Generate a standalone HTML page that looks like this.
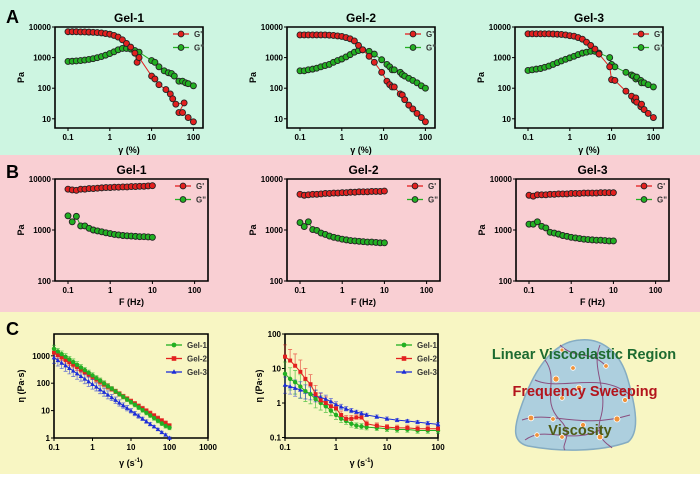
<!DOCTYPE html>
<html><head><meta charset="utf-8"><style>
body{margin:0;width:700px;height:474px;overflow:hidden;background:#fff;font-family:"Liberation Sans",sans-serif}
svg text{font-family:"Liberation Sans",sans-serif;font-weight:bold}
</style></head><body>
<svg id="fig" width="700" height="474" viewBox="0 0 700 474" xmlns="http://www.w3.org/2000/svg">
<rect x="0" y="0" width="700" height="155" fill="#cdf5e1"/>
<rect x="0" y="155" width="700" height="157" fill="#f9cfd3"/>
<rect x="0" y="312" width="700" height="162" fill="#f8f6c3"/>
<text x="6" y="23" font-size="18">A</text>
<text x="6" y="178" font-size="18">B</text>
<text x="6" y="335" font-size="18">C</text>
<g>
<path d="M580 340 C600 338 620 350 628 380 C636 408 640 432 628 442 C600 452 560 452 528 446 C512 442 514 428 520 410 C530 380 548 342 580 340 Z" fill="#a9cde0" stroke="#7fa9c2" stroke-width="1.5" opacity="0.95"/>
<path d="M545 360 C560 380 540 400 560 420 C575 435 560 445 565 450 M600 345 C590 370 610 390 600 420 C595 440 610 445 612 448 M522 420 C550 410 580 430 630 415 M535 380 C560 392 600 370 630 395 M560 345 C575 360 590 350 605 365 M525 440 C545 425 570 445 600 430" fill="none" stroke="#8a4f80" stroke-width="1"/>
<g fill="#f0923a" stroke="#fff" stroke-width="0.8">
<circle cx="556" cy="379" r="3"/><circle cx="573" cy="368" r="2.3"/><circle cx="606" cy="366" r="2.3"/><circle cx="579" cy="388" r="2.8"/><circle cx="562" cy="398" r="2.3"/><circle cx="625" cy="400" r="2.5"/><circle cx="531" cy="418" r="2.8"/><circle cx="553" cy="419" r="2.3"/><circle cx="617" cy="419" r="3"/><circle cx="537" cy="435" r="2.3"/><circle cx="562" cy="437" r="2.3"/><circle cx="600" cy="437" r="2.8"/><circle cx="583" cy="425" r="2.5"/><circle cx="562" cy="350" r="2"/>
</g>
<text x="584" y="359" font-size="14.5" fill="#1d6b30" text-anchor="middle">Linear Viscoelastic Region</text>
<text x="585" y="396" font-size="14.5" fill="#b3141c" text-anchor="middle">Frequency Sweeping</text>
<text x="580" y="435" font-size="14.5" fill="#4d5a14" text-anchor="middle">Viscosity</text>
</g>
</svg>
<script>
// ---- Panel A data (strain sweep), x in %, y in Pa ----
const gel1GpX = [0.1,0.126,0.158,0.2,0.251,0.316,0.398,0.501,0.631,0.794,1,1.26,1.58,2,2.51,3.16,3.98,4.5,5.01,10,12,15,22,28,32,38,60,45,55,75,100];
const gel1GpY = [7000,7000,7000,6900,6900,6800,6700,6600,6400,6100,5800,5300,4700,3800,2900,2200,1400,700,1000,250,200,130,90,65,45,30,33,16,16,11,8];
const gel1GppX = [0.1,0.126,0.158,0.2,0.251,0.316,0.398,0.501,0.631,0.794,1,1.26,1.58,2,2.51,3.16,3.98,5.01,10,12,15,20,25,30,35,45,55,65,75,100];
const gel1GppY = [750,760,780,800,830,870,920,990,1080,1200,1350,1550,1800,2000,2000,1900,1700,1500,800,700,500,370,320,300,250,170,170,150,140,120];
const gel2GpX = [0.1,0.126,0.158,0.2,0.251,0.316,0.398,0.501,0.631,0.794,1,1.26,1.58,2,2.51,3.16,4.5,6,9,12,14,16,18,25,28,32,40,50,63,80,100];
const gel2GpY = [5500,5500,5500,5500,5500,5500,5500,5400,5300,5100,4900,4500,4100,3500,2500,1800,1100,700,330,170,130,110,110,65,60,42,28,21,15,11,8];
const gel2GppX = [0.1,0.126,0.158,0.2,0.251,0.316,0.398,0.501,0.631,0.794,1,1.26,1.58,2,2.51,3.16,4.5,6,9,12,14,16,18,25,28,32,40,50,63,80,100];
const gel2GppY = [370,370,400,420,450,500,550,600,700,800,900,1050,1250,1500,1700,1800,1600,1300,850,600,500,400,400,330,280,250,210,180,150,120,100];
const gel3GpX = [0.1,0.126,0.158,0.2,0.251,0.316,0.398,0.501,0.631,0.794,1,1.26,1.58,2,2.51,3.16,4,5,9,10,12,22,30,35,38,40,50,52,60,75,100];
const gel3GpY = [6000,6000,6000,6000,6000,6000,5900,5800,5700,5500,5200,5000,4500,4000,3200,2500,1900,1300,500,190,180,80,55,40,48,35,25,30,20,15,11];
const gel3GppX = [0.1,0.126,0.158,0.2,0.251,0.316,0.398,0.501,0.631,0.794,1,1.26,1.58,2,2.51,3.16,4,5,9,10,12,22,30,33,38,40,50,52,60,75,100];
const gel3GppY = [380,400,420,440,480,530,600,680,780,880,980,1100,1250,1400,1500,1600,1600,1400,1000,600,500,330,270,250,200,230,180,150,150,130,110];

// ---- Panel B data (frequency sweep), x in Hz ----
const bX = [0.1,0.126,0.158,0.2,0.251,0.316,0.398,0.501,0.631,0.794,1,1.26,1.58,2,2.51,3.16,3.98,5.01,6.31,7.94,10];
const bGel1Gp = [6300,6100,6000,6300,6300,6500,6500,6600,6700,6800,6800,6900,6900,7000,7000,7100,7100,7200,7200,7300,7400];
const bGel1Gpp = [1900,1450,1850,1200,1200,1080,1000,960,920,880,850,820,800,780,770,760,750,740,740,730,720];
const bGel2Gp = [5000,4800,4900,5000,5000,5100,5200,5200,5300,5300,5400,5400,5500,5500,5600,5600,5600,5700,5700,5700,5800];
const bGel2Gpp = [1400,1170,1450,1020,980,870,820,760,720,690,660,640,620,610,600,590,580,580,570,560,560];
const bGel3Gp = [4800,4600,4900,4900,4900,5000,5000,5100,5100,5100,5200,5200,5200,5300,5300,5300,5300,5400,5400,5400,5400];
const bGel3Gpp = [1300,1300,1450,1180,1100,900,870,830,780,750,720,700,680,660,650,640,630,630,620,610,610];

// ---- Panel C data (viscosity), x in 1/s, y in Pa·s ----
const cLeftX = [0.1,0.126,0.158,0.2,0.251,0.316,0.398,0.501,0.631,0.794,1,1.26,1.58,2,2.51,3.16,3.98,5.01,6.31,7.94,10,12.6,15.8,20,25.1,31.6,39.8,50.1,63.1,79.4,100];
const cLeftGel1 = [1800,1440,1150,920,735,590,470,375,300,240,192,153,123,98,78,63,50,40,32,25.6,20.5,16.4,13.1,10.5,8.4,6.7,5.35,4.3,3.4,2.75,2.4];
const cLeftGel2 = [1300,1060,865,705,575,470,383,312,255,208,170,138,113,92,75,61,50,41,33,27,22,18,14.7,12,9.8,8,6.5,5.3,4.3,3.5,2.8];
const cLeftGel3 = [850,680,545,435,350,280,223,179,143,114,91,73,58,47,37.5,30,24,19,15.3,12.2,9.8,7.8,6.3,5,4,3.2,2.6,2.05,1.6,1.3,1.0];
const cLeftErr = [0.35,0.3,0.3,0.3,0.3,0.3,0.3,0.3,0.25,0.25,0.25,0.25,0.25,0.25,0.25,0.2,0.2,0.2,0.2,0.2,0.2,0.2,0.2,0.2,0.2,0.2,0.2,0.2,0.2,0.2,0.2];
const cLeftErrGel3 = [0.6,0.6,0.6,0.6,0.6,0.6,0.6,0.5,0.5,0.5,0.5,0.4,0.4,0.4,0.4,0.3,0.3,0.3,0.25,0.25,0.2,0.2,0.2,0.15,0.15,0.15,0.1,0.1,0.1,0.1,0.1];
const cMidX = [0.1,0.126,0.158,0.2,0.251,0.316,0.398,0.501,0.631,0.794,1,1.26,1.58,2,2.51,3.16,3.98,6.31,10,15.8,25.1,39.8,63.1,100];
const cMidGel1 = [7,5,4,3,2.2,1.8,1.3,1.0,0.8,0.6,0.45,0.35,0.3,0.25,0.22,0.21,0.2,0.19,0.18,0.17,0.17,0.16,0.16,0.16];
const cMidGel2 = [22,17,12,8,5,3.5,1.8,1.2,1.0,0.8,0.7,0.45,0.35,0.35,0.38,0.38,0.25,0.22,0.2,0.19,0.19,0.18,0.18,0.18];
const cMidGel3 = [3.3,3.0,2.7,2.4,2.1,1.9,1.6,1.45,1.3,1.1,0.9,0.78,0.68,0.6,0.55,0.5,0.45,0.4,0.35,0.32,0.3,0.28,0.26,0.24];
const cMidErrGel1 = [1.2,1.1,1.2,1.2,1.0,0.9,0.8,0.6,0.5,0.4,0.35,0.3,0.25,0.25,0.2,0.2,0.2,0.2,0.2,0.2,0.2,0.2,0.2,0.2];

const NS = 'http://www.w3.org/2000/svg';
const svg = document.getElementById('fig');
const L = Math.log10;
function mk(tag, attrs, parent) {
  const e = document.createElementNS(NS, tag);
  for (const k in attrs) e.setAttribute(k, attrs[k]);
  (parent || svg).appendChild(e);
  return e;
}
function axes(g, c) {
  const fx = v => c.px0 + (L(v) - c.dx0) * c.xdec;
  const fy = v => c.py0 + (c.dyTop - L(v)) * c.ydec;
  const frame = mk('path', {d: `M${c.x0} ${c.y0} L${c.x0} ${c.y1} L${c.x1} ${c.y1}` + (c.box ? ` L${c.x1} ${c.y0} Z` : ''), fill: 'none', stroke: '#000', 'stroke-width': 1.6}, g);
  
  
  c.xticks.forEach((t, i) => {
    const x = fx(t);
    mk('line', {x1: x, x2: x, y1: c.y1, y2: c.y1 + 3, stroke: '#000', 'stroke-width': 1}, g);
    const tx = mk('text', {x: x, y: c.y1 + 12, 'font-size': 8, 'text-anchor': 'middle'}, g);
    tx.textContent = c.xtickLabels[i];
    
    
  });
  c.yticks.forEach((t, i) => {
    const y = fy(t);
    mk('line', {x1: c.x0 - 3, x2: c.x0, y1: y, y2: y, stroke: '#000', 'stroke-width': 1}, g);
    const tx = mk('text', {x: c.x0 - 4, y: y + 3, 'font-size': 8, 'text-anchor': 'end'}, g);
    tx.textContent = c.ytickLabels[i];
    
    
  });
  if (c.title) {
    const t = mk('text', {x: (c.x0 + c.x1) / 2, y: c.y0 - 5, 'font-size': 12, 'text-anchor': 'middle'}, g);
    t.textContent = c.title;
    
    
  }
  const xl = mk('text', {x: (c.x0 + c.x1) / 2, y: c.xlY, 'font-size': 9, 'text-anchor': 'middle'}, g);
  xl.innerHTML = c.xlabel;
  
  
  const yl = mk('text', {x: 0, y: 0, 'font-size': 9, 'text-anchor': 'middle', transform: `translate(${c.ylX},${(c.y0 + c.y1) / 2}) rotate(-90)`}, g);
  yl.textContent = c.ylabel;
  
  
  return {fx, fy};
}
function series(g, fx, fy, xs, ys, color, name, marker) {
  const sg = mk('g', {}, g);
  
  
  const pts = xs.map((x, i) => fx(x).toFixed(1) + ',' + fy(ys[i]).toFixed(1)).join(' ');
  mk('polyline', {points: pts, fill: 'none', stroke: color, 'stroke-width': 1}, sg);
  xs.forEach((x, i) => {
    let m;
    if (marker === 'circle') m = mk('circle', {cx: fx(x), cy: fy(ys[i]), r: 3, fill: color, stroke: '#222', 'stroke-width': 0.9}, sg);
    else if (marker === 'square') m = mk('rect', {x: fx(x) - 2, y: fy(ys[i]) - 2, width: 4, height: 4, fill: color}, sg);
    else if (marker === 'tri') m = mk('path', {d: `M${fx(x)} ${fy(ys[i]) - 2.5} l2.3 4.2 l-4.6 0 Z`, fill: color}, sg);
    else m = mk('circle', {cx: fx(x), cy: fy(ys[i]), r: 2.2, fill: color}, sg);
    
    
  });
}
function errbars(g, fx, fy, xs, ys, errs, color, up) {
  xs.forEach((x, i) => {
    const y = ys[i], e = errs[i];
    const ya = fy(y * (1 + e)), yb = fy(up ? y : y / (1 + e));
    const b = mk('path', {d: `M${fx(x)} ${ya} L${fx(x)} ${yb} M${fx(x) - 2} ${ya} L${fx(x) + 2} ${ya}` + (up ? '' : ` M${fx(x) - 2} ${yb} L${fx(x) + 2} ${yb}`), stroke: color, 'stroke-width': 0.8, fill: 'none', opacity: 0.65}, g);
    
    
  });
}
function legend(g, x, y, entries) {
  entries.forEach((en, i) => {
    const lg = mk('g', {}, g);
    
    
    const yy = y + i * 13.5;
    mk('line', {x1: x, x2: x + 16, y1: yy, y2: yy, stroke: en.color, 'stroke-width': 1.3}, lg);
    if (en.marker === 'circle') mk('circle', {cx: x + 8, cy: yy, r: 2.9, fill: en.color, stroke: '#222', 'stroke-width': 0.9}, lg);
    else if (en.marker === 'square') mk('rect', {x: x + 5.7, y: yy - 2.3, width: 4.6, height: 4.6, fill: en.color}, lg);
    else if (en.marker === 'tri') mk('path', {d: `M${x + 8} ${yy - 2.8} l2.6 4.6 l-5.2 0 Z`, fill: en.color}, lg);
    else mk('circle', {cx: x + 8, cy: yy, r: 2.4, fill: en.color}, lg);
    const t = mk('text', {x: x + 21, y: yy + 3, 'font-size': 8, 'font-weight': 'normal', fill: '#333'}, lg);
    t.textContent = en.label;
  });
}
const RED = '#e3201f', GREEN = '#22b022', BLUE = '#1d2ed8';
// Panel A
const aData = [[gel1GpX, gel1GpY, gel1GppX, gel1GppY], [gel2GpX, gel2GpY, gel2GppX, gel2GppY], [gel3GpX, gel3GpY, gel3GppX, gel3GppY]];
const offs = [0, 232, 460];
aData.forEach((d, k) => {
  const o = offs[k];
  const g = mk('g', {});
  
  
  const ax = axes(g, {x0: 55 + o, x1: 203 + o, y0: 27, y1: 128, box: true, px0: 68 + o, dx0: -1, xdec: 41.8, py0: 27, dyTop: 4, ydec: 30.6,
    xticks: [0.1, 1, 10, 100], xtickLabels: ['0.1', '1', '10', '100'], yticks: [10, 100, 1000, 10000], ytickLabels: ['10', '100', '1000', '10000'],
    title: 'Gel-' + (k + 1), xlabel: 'γ (%)', xlY: 153, ylabel: 'Pa', ylX: 24 + o});
  series(g, ax.fx, ax.fy, d[2], d[3], GREEN, 'series-g-double-prime', 'circle');
  series(g, ax.fx, ax.fy, d[0], d[1], RED, 'series-g-prime', 'circle');
  legend(g, 173 + o, 34, [{color: RED, marker: 'circle', label: "G'"}, {color: GREEN, marker: 'circle', label: 'G"'}]);
});
// Panel B
const bData = [[bGel1Gp, bGel1Gpp], [bGel2Gp, bGel2Gpp], [bGel3Gp, bGel3Gpp]];
bData.forEach((d, k) => {
  const o = offs[k] + (k === 2 ? 1 : 0);
  const g = mk('g', {});
  
  
  const ax = axes(g, {x0: 55 + o, x1: 208 + o, y0: 179, y1: 281, box: true, px0: 68 + o, dx0: -1, xdec: 42.2, py0: 179, dyTop: 4, ydec: 51,
    xticks: [0.1, 1, 10, 100], xtickLabels: ['0.1', '1', '10', '100'], yticks: [100, 1000, 10000], ytickLabels: ['100', '1000', '10000'],
    title: 'Gel-' + (k + 1), xlabel: 'F (Hz)', xlY: 305, ylabel: 'Pa', ylX: 24 + o});
  series(g, ax.fx, ax.fy, bX, d[0], RED, 'series-g-prime', 'circle');
  series(g, ax.fx, ax.fy, bX, d[1], GREEN, 'series-g-double-prime', 'circle');
  legend(g, 175 + o, 186, [{color: RED, marker: 'circle', label: "G'"}, {color: GREEN, marker: 'circle', label: 'G"'}]);
});
// Panel C left
(function () {
  const g = mk('g', {});
  
  
  const ax = axes(g, {x0: 54, x1: 208, y0: 334, y1: 438, box: true, px0: 54, dx0: -1, xdec: 38.5, py0: 438, dyTop: 0, ydec: 27.4,
    xticks: [0.1, 1, 10, 100, 1000], xtickLabels: ['0.1', '1', '10', '100', '1000'], yticks: [1, 10, 100, 1000], ytickLabels: ['1', '10', '100', '1000'],
    title: '', xlabel: 'γ (s<tspan font-size="6" dy="-4">-1</tspan><tspan dy="4">)</tspan>', xlY: 466, ylabel: 'η (Pa·s)', ylX: 24});
  errbars(g, ax.fx, ax.fy, cLeftX, cLeftGel1, cLeftErr, GREEN, false);
  errbars(g, ax.fx, ax.fy, cLeftX, cLeftGel2, cLeftErr, RED, false);
  errbars(g, ax.fx, ax.fy, cLeftX, cLeftGel3, cLeftErrGel3, BLUE, false);
  series(g, ax.fx, ax.fy, cLeftX, cLeftGel3, BLUE, 'series-gel-3', 'tri');
  series(g, ax.fx, ax.fy, cLeftX, cLeftGel2, RED, 'series-gel-2', 'square');
  series(g, ax.fx, ax.fy, cLeftX, cLeftGel1, GREEN, 'series-gel-1', 'dot');
  legend(g, 166, 345, [{color: GREEN, marker: 'dot', label: 'Gel-1'}, {color: RED, marker: 'square', label: 'Gel-2'}, {color: BLUE, marker: 'tri', label: 'Gel-3'}]);
})();
// Panel C middle
(function () {
  const g = mk('g', {});
  
  
  const ax = axes(g, {x0: 285, x1: 438, y0: 334, y1: 438, box: true, px0: 285, dx0: -1, xdec: 51, py0: 334, dyTop: 2, ydec: 34.5,
    xticks: [0.1, 1, 10, 100], xtickLabels: ['0.1', '1', '10', '100'], yticks: [0.1, 1, 10, 100], ytickLabels: ['0.1', '1', '10', '100'],
    title: '', xlabel: 'γ (s<tspan font-size="6" dy="-4">-1</tspan><tspan dy="4">)</tspan>', xlY: 466, ylabel: 'η (Pa·s)', ylX: 262});
  errbars(g, ax.fx, ax.fy, cMidX, cMidGel1, cMidErrGel1, GREEN, false);
  errbars(g, ax.fx, ax.fy, cMidX, cMidGel2, cMidErrGel1, RED, true);
  errbars(g, ax.fx, ax.fy, cMidX, cMidGel3, cMidErrGel1.map(e => e * 0.6), BLUE, false);
  series(g, ax.fx, ax.fy, cMidX, cMidGel3, BLUE, 'series-gel-3', 'tri');
  series(g, ax.fx, ax.fy, cMidX, cMidGel1, GREEN, 'series-gel-1', 'dot');
  series(g, ax.fx, ax.fy, cMidX, cMidGel2, RED, 'series-gel-2', 'square');
  legend(g, 396, 345, [{color: GREEN, marker: 'dot', label: 'Gel-1'}, {color: RED, marker: 'square', label: 'Gel-2'}, {color: BLUE, marker: 'tri', label: 'Gel-3'}]);
})();
</script>
</body></html>
